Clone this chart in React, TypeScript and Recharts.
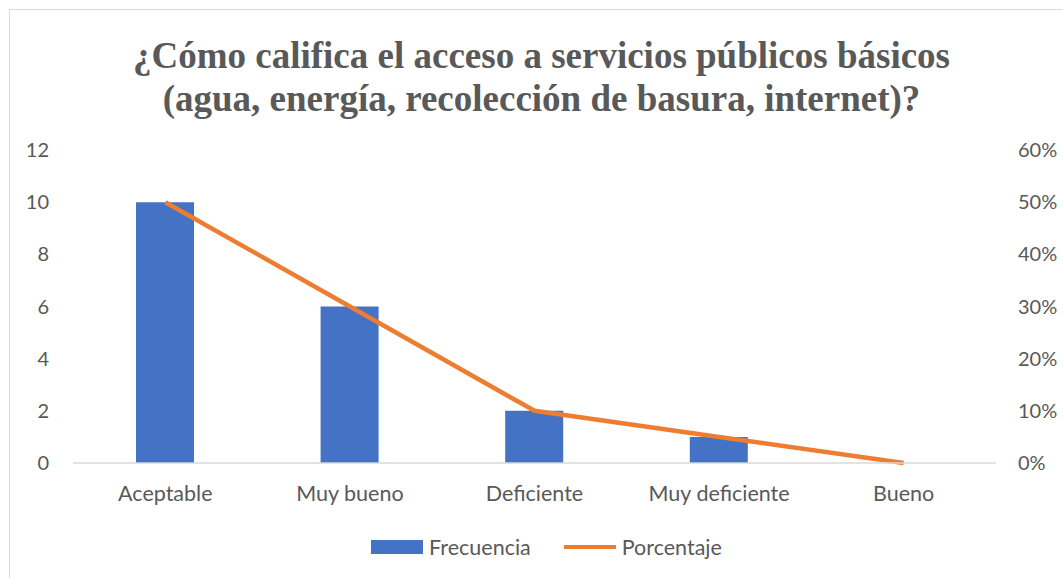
import React from 'react';
// npm
import { ComposedChart, Bar, Line, XAxis, YAxis } from 'recharts';

const categories = ['Aceptable', 'Muy bueno', 'Deficiente', 'Muy deficiente', 'Bueno'];
const frecuencia = [10, 6, 2, 1, 0];
const porcentaje = [0.5, 0.3, 0.1, 0.05, 0];
const leftTicks = [0, 2, 4, 6, 8, 10, 12];
const rightTicks = [0, 0.1, 0.2, 0.3, 0.4, 0.5, 0.6];

const titleLines = [
  '¿Cómo califica el acceso a servicios públicos básicos',
  '(agua, energía, recolección de basura, internet)?',
];

const BLUE = '#4472C4';
const ORANGE = '#ED7D31';
const TEXT = '#595959';
const FONT = 'Lato, "Open Sans", sans-serif';
const FONT_SIZE = 21.5;

const App = () => {
  const data = categories.map((name, i) => ({
    name,
    Frecuencia: frecuencia[i],
    Porcentaje: porcentaje[i],
  }));

  const tick = { fill: TEXT, fontSize: FONT_SIZE, fontFamily: FONT };
  const yTick = { ...tick, fontSize: 20 };

  // fixed so the oversized frame does not make the page scroll
  return (
    <div
      style={{
        position: 'fixed',
        top: 9,
        left: 9,
        width: 1100,
        height: 600,
        border: '1px solid #d9d9d9',
        boxSizing: 'border-box',
        background: '#fff',
        overflow: 'hidden',
      }}
    >
      <div
        style={{
          position: 'absolute',
          top: 24,
          left: 0,
          width: 1063,
          textAlign: 'center',
          fontFamily: '"Liberation Serif", "Times New Roman", serif',
          fontWeight: 'bold',
          fontSize: 37,
          lineHeight: '43px',
          color: TEXT,
        }}
      >
        {titleLines.map((t) => (
          <div key={t}>{t}</div>
        ))}
      </div>

      <div style={{ position: 'absolute', top: 0, left: 0 }}>
        <ComposedChart
          width={1090}
          height={568}
          data={data}
          margin={{ top: 140, right: 0, bottom: 55, left: 0 }}
        >
          <XAxis
            dataKey="name"
            tick={tick}
            tickLine={false}
            axisLine={{ stroke: '#d9d9d9', strokeWidth: 1.5 }}
            tickMargin={17}
            height={60}
            interval={0}
          />
          <YAxis
            yAxisId="left"
            domain={[0, 12]}
            ticks={leftTicks}
            tick={yTick}
            tickLine={false}
            axisLine={false}
            tickMargin={18}
            width={63}
          />
          <YAxis
            yAxisId="right"
            orientation="right"
            domain={[0, 0.6]}
            ticks={rightTicks}
            tickFormatter={(v: number) => `${Math.round(v * 100)}%`}
            tick={{ ...yTick, textAnchor: 'start' }}
            tickLine={false}
            axisLine={false}
            tickMargin={16}
            width={104}
          />
          <Bar
            yAxisId="left"
            dataKey="Frecuencia"
            fill={BLUE}
            barSize={58}
            isAnimationActive={false}
          />
          <Line
            yAxisId="right"
            dataKey="Porcentaje"
            stroke={ORANGE}
            strokeWidth={4.5}
            dot={false}
            activeDot={false}
            type="linear"
            isAnimationActive={false}
          />
        </ComposedChart>
      </div>

      <div
        style={{
          position: 'absolute',
          top: 524,
          left: 5,
          width: 1063,
          display: 'flex',
          justifyContent: 'center',
          alignItems: 'center',
          fontFamily: FONT,
          fontSize: FONT_SIZE,
          color: TEXT,
        }}
      >
        <span style={{ display: 'inline-block', width: 52, height: 14, background: BLUE, marginRight: 6 }} />
        <span style={{ marginRight: 33 }}>Frecuencia</span>
        <span style={{ display: 'inline-block', width: 52, height: 4, background: ORANGE, marginRight: 6 }} />
        <span>Porcentaje</span>
      </div>
    </div>
  );
};

export default App;
